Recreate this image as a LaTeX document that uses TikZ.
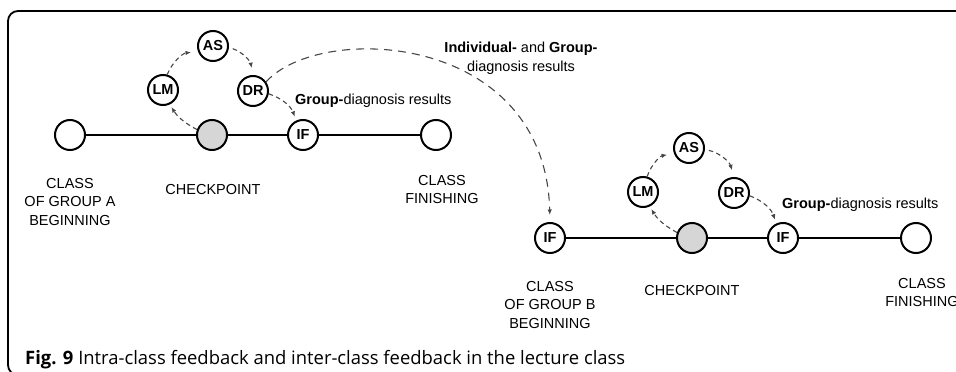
\documentclass[tikz,border=0pt]{standalone}
\usepackage{fontspec}
\usepackage{graphicx}
\setmainfont{Liberation Sans}
\newfontfamily\capfont{Open Sans}
\usetikzlibrary{arrows.meta}
\definecolor{cpgray}{RGB}{214,214,214}
\definecolor{dashgray}{RGB}{70,70,70}
\begin{document}
\begin{tikzpicture}[x=1pt,y=1pt,
  stage/.style={circle, draw=black, line width=2pt, fill=white, minimum size=30pt, inner sep=0pt, font=\fontsize{14.5}{15}\selectfont\bfseries},
  checkpt/.style={stage, fill=cpgray},
  timeline/.style={line width=2.6pt},
  fb/.style={draw=dashgray, line width=1.1pt, dash pattern=on 4.5pt off 3.5pt, -{Latex[length=5.5pt,width=4.5pt]}},
  bigfb/.style={draw=dashgray, line width=1.1pt, dash pattern=on 8pt off 6pt, -{Latex[length=5.5pt,width=4.5pt]}},
  lbl/.style={align=center, inner sep=0pt, anchor=base, font=\fontsize{14.5}{18.5}\selectfont},
  note/.style={inner sep=0pt, anchor=base west, font=\fontsize{14.5}{18.5}\selectfont},
  frame/.style={line width=1.8pt, rounded corners=10pt}
]
\useasboundingbox (0,0) rectangle (956,-372);
\clip (0,0) rectangle (956,-372);
\draw[frame] (8,-11) rectangle (985,-375);

% Row 1
\node[stage] (A1) at (70,-135) {};
\node[checkpt] (CP1) at (212,-135) {};
\node[stage] (IF1) at (303,-135) {IF};
\node[stage] (F1) at (436,-135) {};
\node[stage] (LM1) at (163,-90) {LM};
\node[stage] (AS1) at (213,-46) {AS};
\node[stage] (DR1) at (253,-91) {DR};
\draw[timeline] (A1) -- (CP1);
\draw[timeline] (CP1) -- (IF1);
\draw[timeline] (IF1) -- (F1);

% Row 2
\node[stage] (B2) at (550,-238) {IF};
\node[checkpt] (CP2) at (692,-238) {};
\node[stage] (IF2) at (783,-238) {IF};
\node[stage] (F2) at (916,-238) {};
\node[stage] (LM2) at (643,-192) {LM};
\node[stage] (AS2) at (689,-148) {AS};
\node[stage] (DR2) at (734,-193) {DR};
\draw[timeline] (B2) -- (CP2);
\draw[timeline] (CP2) -- (IF2);
\draw[timeline] (IF2) -- (F2);

% intra-class feedback loops
\draw[fb, shorten >=3pt] (CP1.160) to[bend left=15] (LM1.-65);
\draw[fb, shorten >=7pt] (LM1.75) to[bend left=30] (AS1.200);
\draw[fb, shorten <=4pt, shorten >=7pt] (AS1.-5) to[bend left=30] (DR1.north);
\draw[fb, shorten >=4pt] (DR1.-10) to[bend left=25] (IF1.115);

\draw[fb, shorten >=3pt] (CP2.160) to[bend left=15] (LM2.-65);
\draw[fb, shorten >=7pt] (LM2.75) to[bend left=30] (AS2.200);
\draw[fb, shorten <=4pt, shorten >=7pt] (AS2.-5) to[bend left=30] (DR2.north);
\draw[fb, shorten >=4pt] (DR2.-10) to[bend left=25] (IF2.115);

% inter-class feedback
\draw[bigfb, shorten >=7pt] (DR1.35) .. controls (320,-22) and (545,-32) .. (B2.north);

% labels (anchor = baseline of the last line)
\node[lbl] (LA) at (70,-225) {CLASS\\OF GROUP A\\BEGINNING};
\node[lbl] (LC1) at (213,-194) {CHECKPOINT};
\node[lbl] (LF1) at (442,-203.5) {CLASS\\FINISHING};
\node[lbl] (LB) at (550,-328) {CLASS\\OF GROUP B\\BEGINNING};
\node[lbl] (LC2) at (692,-295) {CHECKPOINT};
\node[lbl] (LF2) at (922,-306.5) {CLASS\\FINISHING};

\node[note] (G1) at (295,-104) {\textbf{Group-}diagnosis results};
\node[note] (G2) at (782,-208) {\textbf{Group-}diagnosis results};
\node[lbl] (IG) at (521,-71) {\textbf{Individual-} and \textbf{Group-}\\diagnosis results};

% caption
\node[inner sep=0pt, anchor=base west] (cap) at (25,-364)
  {\resizebox{600pt}{\height}{\capfont\fontsize{18.5}{20}\selectfont\textbf{Fig. 9} Intra-class feedback and inter-class feedback in the lecture class}};
\end{tikzpicture}
\end{document}
